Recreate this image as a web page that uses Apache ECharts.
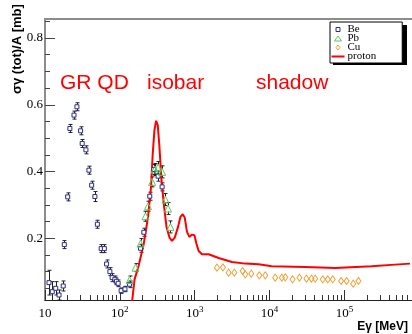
<!DOCTYPE html>
<html>
<head>
<meta charset="utf-8">
<script src="https://cdn.jsdelivr.net/npm/echarts@6/dist/echarts.min.js"></script>
<style>
html, body { margin: 0; padding: 0; background: #fff; }
#chart { width: 412px; height: 334px; }
</style>
</head>
<body>
<div id="chart"></div>
<script>
// Be 数据 (E 单位 MeV)
const beE = [11.3, 12.5, 13.9, 15.4, 17.5, 18.1, 20.1, 21.5, 24.4, 26.7, 29.9, 31.4, 35.2, 38.6, 42, 46.4, 50.1, 56.3, 62.1, 66.5, 73.6, 78.9, 85.8, 90, 94.9, 104, 117, 135, 189, 209, 251, 284, 324, 367];
const beSigma = [0.067, 0.040, 0.050, 0.030, 0.057, 0.181, 0.324, 0.529, 0.569, 0.594, 0.522, 0.484, 0.465, 0.404, 0.359, 0.325, 0.242, 0.169, 0.169, 0.123, 0.100, 0.082, 0.077, 0.071, 0.065, 0.043, 0.048, 0.062, 0.170, 0.218, 0.326, 0.406, 0.386, 0.354];
const beErr = [0.037, 0.030, 0.020, 0.015, 0.015, 0.012, 0.012, 0.012, 0.012, 0.012, 0.012, 0.012, 0.012, 0.012, 0.012, 0.015, 0.012, 0.012, 0.012, 0.012, 0.012, 0.012, 0.010, 0.010, 0.010, 0.008, 0.008, 0.010, 0.012, 0.012, 0.012, 0.015, 0.015, 0.012];

// Pb 数据
const pbE = [135, 162, 189, 220, 238, 270, 293, 324, 367, 406, 440, 474];
const pbSigma = [0.075, 0.112, 0.184, 0.266, 0.296, 0.369, 0.406, 0.412, 0.399, 0.316, 0.289, 0.234];
const pbErr = [0.012, 0.012, 0.015, 0.015, 0.015, 0.015, 0.018, 0.018, 0.018, 0.018, 0.018, 0.018];

// Cu 数据
const cuE = [1983, 2383, 2840, 3384, 4365, 4742, 5700, 7290, 8770, 11900, 14600, 16200, 20300, 25100, 31100, 36300, 40700, 51400, 59900, 69800, 90300, 107000, 131000, 154000];
const cuSigma = [0.112, 0.113, 0.097, 0.097, 0.102, 0.092, 0.094, 0.089, 0.089, 0.082, 0.082, 0.083, 0.077, 0.082, 0.079, 0.079, 0.079, 0.077, 0.077, 0.077, 0.072, 0.072, 0.064, 0.072];

// proton 曲线
const protonE = [146, 157, 179, 209, 238, 261, 275, 290, 305, 321, 338, 360, 386, 420, 460, 498, 541, 599, 644, 692, 736, 789, 849, 920, 991, 1054, 1130, 1250, 1537, 2089, 3143, 4742, 7130, 10700, 29900, 75200, 231000, 474000, 752000];
const protonSigma = [0.012, 0.076, 0.119, 0.184, 0.264, 0.354, 0.454, 0.524, 0.552, 0.539, 0.474, 0.374, 0.304, 0.234, 0.202, 0.192, 0.202, 0.234, 0.264, 0.272, 0.262, 0.219, 0.204, 0.211, 0.209, 0.184, 0.162, 0.152, 0.152, 0.141, 0.129, 0.124, 0.122, 0.116, 0.114, 0.111, 0.116, 0.121, 0.124];

// 刻度
const xMajor = [10, 100, 1000, 10000, 100000];
const xMinor = [];
[10, 100, 1000, 10000, 100000].forEach(d => { for (let k = 2; k <= 9; k++) xMinor.push(d * k); });
const yMajor = [0.2, 0.4, 0.6, 0.8];
const yMinor = [0.05, 0.1, 0.15, 0.25, 0.3, 0.35, 0.45, 0.5, 0.55, 0.65, 0.7, 0.75, 0.85];

const serif = '"Liberation Serif", "DejaVu Serif", serif';
const sans = '"Liberation Sans", Arial, sans-serif';

const beStyle = { color: '#fff', borderColor: '#2b2b8c', borderWidth: 1, opacity: 1 };
const pbStyle = { color: 'rgba(255,255,255,0)', borderColor: '#5cc85c', borderWidth: 1, opacity: 1 };
const cuStyle = { color: 'rgba(255,255,255,0)', borderColor: '#f0a030', borderWidth: 1, opacity: 1 };

// 图例图标: 13x6 的框, 标记居中 (M0,0M13,6 固定边界)
const box = 'path://M0,0M13,6';
const legendIcons = {
    Be: box + 'M4.5,1L8.5,1L8.5,5L4.5,5Z',
    Pb: box + 'M6.5,0.5L10,5.5L3,5.5Z',
    Cu: box + 'M6.5,0.5L8.5,3L6.5,5.5L4.5,3Z',
    proton: box + 'M0,2L13,2L13,4L0,4Z'
};

function pairs(xs, ys) {
    return xs.map((x, i) => [x, ys[i]]);
}

// 误差棒 - custom series, 在 marker 处留空
function errorBars(xs, ys, errs, gap) {
    return {
        type: 'custom',
        silent: true,
        clip: true,
        z: 2,
        data: xs.map((x, i) => [x, ys[i] - errs[i], ys[i] + errs[i], ys[i]]),
        encode: { x: 0, y: [1, 2] },
        renderItem: (params, api) => {
            const lo = api.coord([api.value(0), api.value(1)]);
            const hi = api.coord([api.value(0), api.value(2)]);
            const mid = api.coord([api.value(0), api.value(3)]);
            const st = { stroke: '#222', lineWidth: 1 };
            const x = Math.round(mid[0]) + 0.5;
            return {
                type: 'group',
                children: [
                    { type: 'line', shape: { x1: x, y1: lo[1], x2: x, y2: mid[1] + gap }, style: st },
                    { type: 'line', shape: { x1: x, y1: mid[1] - gap, x2: x, y2: hi[1] }, style: st },
                    { type: 'line', shape: { x1: x - 2, y1: lo[1], x2: x + 2, y2: lo[1] }, style: st },
                    { type: 'line', shape: { x1: x - 2, y1: hi[1], x2: x + 2, y2: hi[1] }, style: st }
                ]
            };
        }
    };
}

const xBase = {
    type: 'log',
    min: 10,
    max: 800000,
    splitLine: { show: false }
};
const yBase = {
    type: 'value',
    min: 0.015,
    max: 0.857,
    splitLine: { show: false }
};

const chart = echarts.init(document.getElementById('chart'));
chart.setOption({
    animation: false,
    grid: { left: 45, right: 0, top: 19, bottom: 34 },
    legend: {
        data: [
            { name: 'Be', icon: legendIcons.Be, itemStyle: beStyle },
            { name: 'Pb', icon: legendIcons.Pb, itemStyle: pbStyle },
            { name: 'Cu', icon: legendIcons.Cu, itemStyle: cuStyle },
            { name: 'proton', icon: legendIcons.proton, itemStyle: { color: '#ff0000', borderWidth: 0 } }
        ],
        orient: 'vertical',
        left: 330,
        top: 22,
        itemWidth: 13,
        itemHeight: 6,
        itemGap: -2,
        padding: [2, 26, 1, 1],
        backgroundColor: '#fff',
        borderColor: '#000',
        borderWidth: 1,
        borderRadius: 0,
        selectedMode: false,
        z: 10,
        textStyle: { fontFamily: serif, fontSize: 11, color: '#000', padding: [0, 0, 0, -2] }
    },
    graphic: [
        // 图例阴影
        { type: 'rect', z: 9, shape: { x: 333, y: 25, width: 74, height: 40 }, style: { fill: '#000' } },
        { type: 'text', x: 17, y: 49, rotation: Math.PI / 2,
          style: { text: 'σγ (tot)/A [mb]', font: 'bold 13px ' + sans, fill: '#000', align: 'center', verticalAlign: 'middle', textAlign: 'center', textVerticalAlign: 'middle' } },
        { type: 'text', x: 408, y: 327,
          style: { text: 'Eγ [MeV]', font: 'bold 12px ' + sans, fill: '#000', align: 'right', verticalAlign: 'middle', textAlign: 'right', textVerticalAlign: 'middle' } },
        { type: 'text', x: 60, y: 83,
          style: { text: 'GR QD', font: '21px ' + sans, fill: '#ff0000', verticalAlign: 'middle', textVerticalAlign: 'middle' } },
        { type: 'text', x: 147, y: 83,
          style: { text: 'isobar', font: '21px ' + sans, fill: '#ff0000', verticalAlign: 'middle', textVerticalAlign: 'middle' } },
        { type: 'text', x: 256, y: 83,
          style: { text: 'shadow', font: '21px ' + sans, fill: '#ff0000', verticalAlign: 'middle', textVerticalAlign: 'middle' } }
    ],
    xAxis: [
        Object.assign({}, xBase, {
            position: 'bottom',
            axisLine: { lineStyle: { color: '#222', width: 1 } },
            axisTick: { inside: true, length: 10, customValues: xMajor, lineStyle: { color: '#333' } },
            axisLabel: {
                customValues: xMajor,
                margin: 5,
                formatter: v => {
                    const p = Math.round(Math.log10(v));
                    return p === 1 ? '{b|10}' : '{b|10}{s|' + p + '}';
                },
                rich: {
                    b: { fontFamily: serif, fontSize: 13, color: '#000', lineHeight: 18 },
                    s: { fontFamily: serif, fontSize: 9, color: '#000', lineHeight: 9, verticalAlign: 'top' }
                }
            }
        }),
        Object.assign({}, xBase, {
            position: 'bottom',
            axisLine: { show: false },
            axisTick: { inside: true, length: 5, customValues: xMinor, lineStyle: { color: '#333' } },
            axisLabel: { show: false }
        }),
        Object.assign({}, xBase, {
            position: 'top',
            axisLine: { lineStyle: { color: '#8c8c8c', width: 2 } },
            axisTick: { show: false },
            axisLabel: { show: false }
        })
    ],
    yAxis: [
        Object.assign({}, yBase, {
            position: 'left',
            axisLine: { show: true, lineStyle: { color: '#8c8c8c', width: 2 } },
            axisTick: { show: true, inside: true, length: 10, customValues: yMajor, lineStyle: { color: '#444' } },
            axisLabel: {
                customValues: yMajor,
                margin: 2,
                fontFamily: serif,
                fontSize: 13,
                color: '#000',
                formatter: v => v.toFixed(1)
            }
        }),
        Object.assign({}, yBase, {
            position: 'left',
            offset: 0,
            axisLine: { show: false },
            axisTick: { show: true, inside: true, length: 5, customValues: yMinor, lineStyle: { color: '#444' } },
            axisLabel: { show: false }
        })
    ],
    series: [
        errorBars(beE, beSigma, beErr, 2),
        errorBars(pbE, pbSigma, pbErr, 3),
        {
            name: 'proton',
            type: 'line',
            data: pairs(protonE, protonSigma),
            symbol: 'none',
            clip: true,
            z: 3,
            itemStyle: { color: '#ff0000' },
            lineStyle: { color: '#ff0000', width: 2 }
        },
        {
            name: 'Be',
            type: 'scatter',
            data: pairs(beE, beSigma),
            symbol: 'rect',
            symbolSize: 4,
            z: 4,
            itemStyle: beStyle
        },
        {
            name: 'Pb',
            type: 'scatter',
            data: pairs(pbE, pbSigma),
            symbol: 'triangle',
            symbolSize: 7,
            z: 4,
            itemStyle: pbStyle
        },
        {
            name: 'Cu',
            type: 'scatter',
            data: pairs(cuE, cuSigma),
            symbol: 'diamond',
            symbolSize: [5, 7],
            z: 4,
            itemStyle: cuStyle
        }
    ]
});

window.addEventListener('resize', () => chart.resize());
</script>
</body>
</html>
